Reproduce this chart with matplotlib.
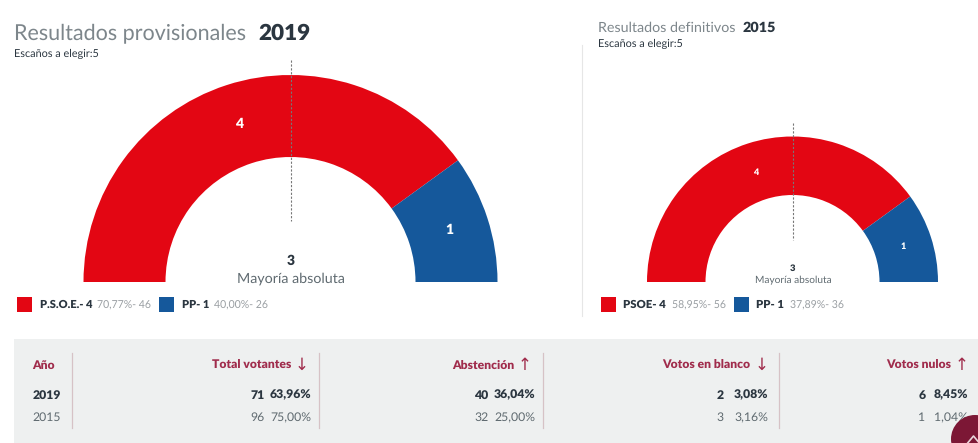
import matplotlib
matplotlib.use('Agg')
import matplotlib.pyplot as plt
from matplotlib.patches import Rectangle, Circle

plt.rcParams['font.family'] = ['Lato', 'DejaVu Sans']
plt.rcParams['text.hinting'] = 'no_hinting'

# seats
seats_2019 = [4, 1]
seats_2015 = [4, 1]
seats_total = 5
majority = 3

legend_2019 = [('P.S.O.E.- 4', '70,77%- 46'), ('PP- 1', '40,00%- 26')]
legend_2015 = [('PSOE- 4', '58,95%- 56'), ('PP- 1', '37,89%- 36')]

# table
years = ['2019', '2015']
headers = ['Total votantes', 'Abstención', 'Votos en blanco', 'Votos nulos']
arrows = ['↓', '↑', '↓', '↑']
counts = [['71', '96'], ['40', '32'], ['2', '3'], ['6', '1']]
percents = [['63,96%', '75,00%'], ['36,04%', '25,00%'], ['3,08%', '3,16%'], ['8,45%', '1,04%']]

RED = '#e30613'
BLUE = '#15589b'
WINE = '#a02c4c'
DARK = '#2b3640'
GREY = '#5f6a70'
LIGHT = '#9a9fa3'

fig = plt.figure(figsize=(9.79, 4.43), dpi=100)
ax = fig.add_axes([0, 0, 1, 1])


def hemi(seats, cx, r_out, r_in, base):
    # invisible second half keeps the arc on top only
    wedges, _ = ax.pie(seats + [sum(seats)], colors=[RED, BLUE, 'none'], startangle=180,
                       counterclock=False, center=(cx, 443 - base), radius=r_out,
                       wedgeprops={'width': r_out - r_in, 'linewidth': 0}, frame=True)
    return wedges


hemi(seats_2019, 290.5, 207, 125, 282)
hemi(seats_2015, 792.5, 145.5, 87, 282)

ax.set_xlim(0, 979)
ax.set_ylim(0, 443)
ax.set_aspect('auto')
ax.axis('off')


def T(x, y, s, **kw):
    kw.setdefault('va', 'center')
    return ax.text(x, 443 - y, s, **kw)


# titles
T(14, 33, 'Resultados provisionales', fontsize=15.5, color='#7d868b')
T(258, 33, '2019', fontsize=16.2, color=DARK, fontweight='heavy')
T(14, 54, 'Escaños a elegir:5', fontsize=7.8, color=DARK)
T(598, 28, 'Resultados definitivos', fontsize=10.3, color='#7d868b')
T(743, 28, '2015', fontsize=10.4, color=DARK, fontweight='heavy')
T(598, 44, 'Escaños a elegir:5', fontsize=7.8, color=DARK)

# majority dashes
ax.plot([291, 291], [443 - 60, 443 - 221], color='#777777', lw=0.8, ls=(0, (2, 1.5)))
ax.plot([793, 793], [443 - 123, 443 - 240], color='#777777', lw=0.8, ls=(0, (2, 1.5)))

# seat labels
T(239, 124, str(seats_2019[0]), fontsize=10, color='white', fontweight='heavy', ha='center')
T(449, 230, str(seats_2019[1]), fontsize=10, color='white', fontweight='heavy', ha='center')
T(756, 172, str(seats_2015[0]), fontsize=6.5, color='white', fontweight='heavy', ha='center')
T(903, 246, str(seats_2015[1]), fontsize=6.5, color='white', fontweight='heavy', ha='center')

T(291, 261, str(majority), fontsize=10, color=DARK, fontweight='heavy', ha='center')
T(291, 279, 'Mayoría absoluta', fontsize=10.3, color=GREY, ha='center')
T(793, 268, str(majority), fontsize=6.8, color=DARK, fontweight='heavy', ha='center')
T(793, 280, 'Mayoría absoluta', fontsize=7.3, color=GREY, ha='center')

# legends
ax.add_patch(Rectangle((17, 443 - 312), 15, 15, color=RED, lw=0))
T(40, 305, legend_2019[0][0], fontsize=8, color=DARK, fontweight='heavy')
T(97, 305, legend_2019[0][1], fontsize=7.6, color=LIGHT)
ax.add_patch(Rectangle((159.5, 443 - 312), 15, 15, color=BLUE, lw=0))
T(182, 305, legend_2019[1][0], fontsize=8, color=DARK, fontweight='heavy')
T(214.5, 305, legend_2019[1][1], fontsize=7.6, color=LIGHT)

ax.add_patch(Rectangle((601, 443 - 312), 15, 15, color=RED, lw=0))
T(623.5, 305, legend_2015[0][0], fontsize=8.2, color=DARK, fontweight='heavy')
T(672, 305, legend_2015[0][1], fontsize=7.6, color=LIGHT)
ax.add_patch(Rectangle((734.5, 443 - 312), 15, 15, color=BLUE, lw=0))
T(756.5, 305, legend_2015[1][0], fontsize=8.2, color=DARK, fontweight='heavy')
T(790, 305, legend_2015[1][1], fontsize=7.6, color=LIGHT)

# panel divider
ax.plot([582.5, 582.5], [443 - 45, 443 - 316], color='#e6e6e6', lw=0.8)

# table band
ax.add_patch(Rectangle((14, 0), 965, 443 - 339, color='#eef0f0', lw=0))
col_lines = [72.5, 319.5, 543, 779]
for x in col_lines:
    ax.plot([x, x], [443 - 353, 443 - 428], color='#d6c2c6', lw=0.9)

T(32.5, 365, 'Año', fontsize=8.7, color=WINE, fontweight='heavy')
T(32.5, 395, years[0], fontsize=8.8, color=DARK, fontweight='heavy')
T(32.5, 417.5, years[1], fontsize=8.8, color=GREY)

head_right = [291, 514.5, 750, 951]
arrow_x = [302, 525, 761.5, 961.5]
count_right = [264.5, 488.5, 724, 925.5]
pct_right = [311, 535, 768, 968]
for i in range(4):
    T(head_right[i], 365, headers[i], fontsize=8.7, color=WINE, fontweight='heavy', ha='right')
    T(arrow_x[i], 365, arrows[i], fontsize=12, color=WINE, family='DejaVu Sans', ha='center')
    for j in range(2):
        style = {'color': DARK, 'fontweight': 'heavy'} if j == 0 else {'color': GREY}
        y = 395 if j == 0 else 417.5
        T(count_right[i], y, counts[i][j], fontsize=8.8, ha='right', **style)
        T(pct_right[i], y, percents[i][j], fontsize=8.8, ha='right', **style)

# scroll-to-top button
ax.add_patch(Circle((975, 443 - 439), 24, color='#7c1735', lw=0, zorder=5))
ax.plot([966, 973.5, 981], [443 - 445, 443 - 436, 443 - 445], color='#e8d5da', lw=1.2, zorder=6)

fig.savefig('out.png', dpi=100)
